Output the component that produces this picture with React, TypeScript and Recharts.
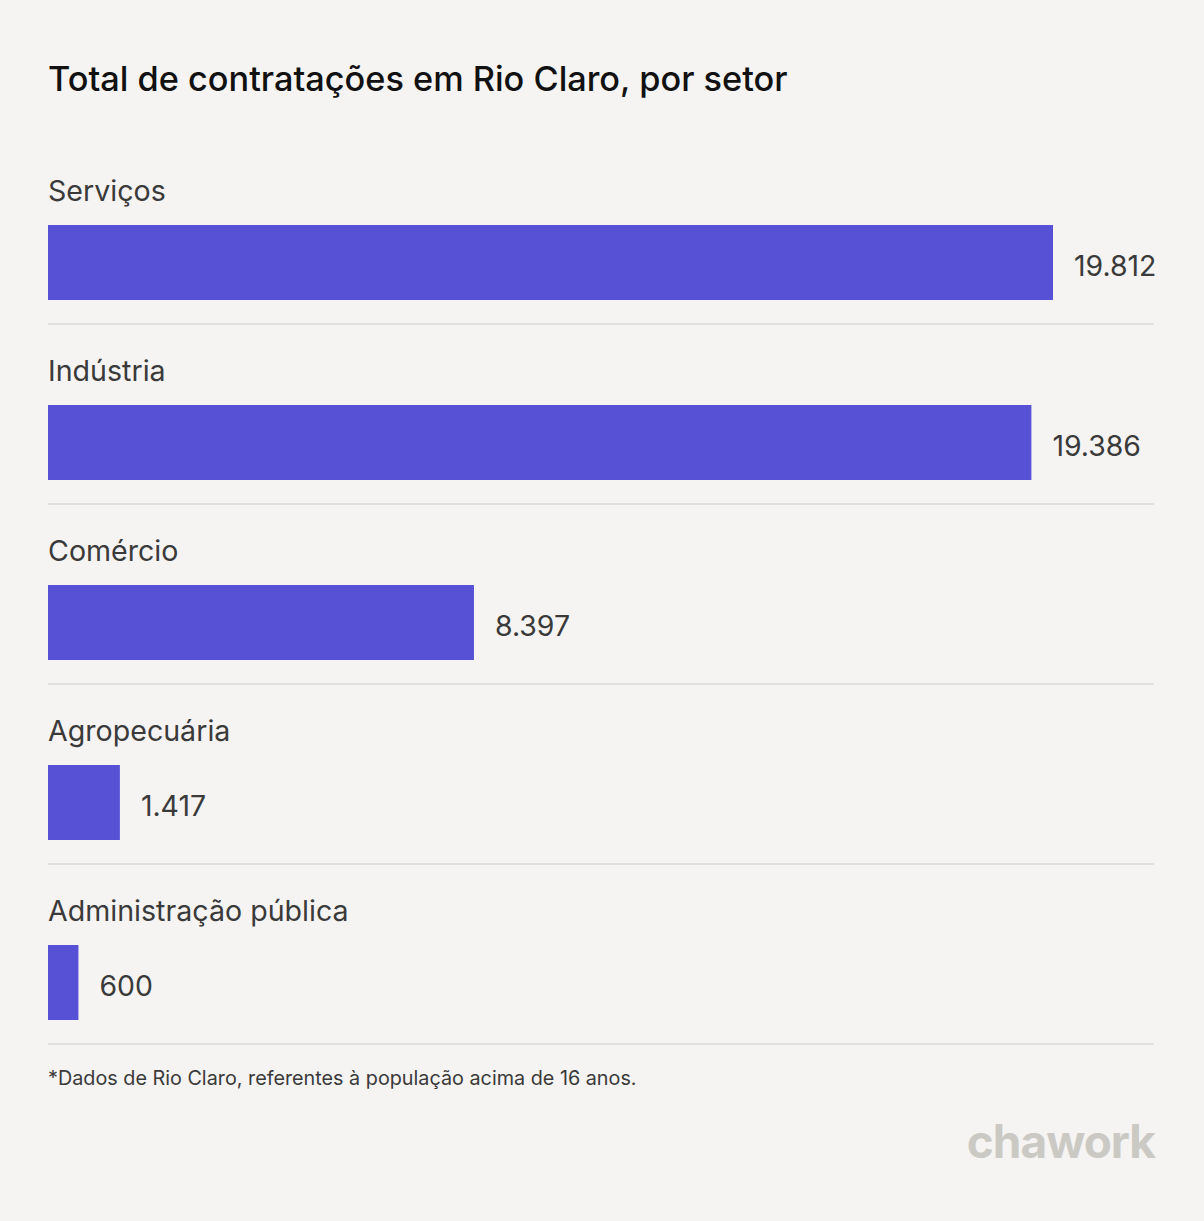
import { BarChart, Bar, XAxis, YAxis } from 'recharts'

const sectors = ['Serviços', 'Indústria', 'Comércio', 'Agropecuária', 'Administração pública']
const hires = [19812, 19386, 8397, 1417, 600]

const data = sectors.map((name, i) => ({ name, value: hires[i] }))

const FONT = 'Inter, "Noto Sans", sans-serif'

function formatBR(v: number) {
    return String(v).replace(/\B(?=(\d{3})+(?!\d))/g, '.')
}

function SectorBar(props: any) {
    const { x, y, width, height, payload, value } = props
    return (
        <g>
            <text x={48} y={y - 24} fontSize={28.6} fill="#3a3a3a" fontFamily={FONT}>
                {payload.name}
            </text>
            <rect x={x} y={y} width={width} height={height} fill="#5751d5" />
            <text x={x + width + 21} y={y + height / 2 + 13} fontSize={28.4} fill="#3a3a3a" fontFamily={FONT}>
                {formatBR(value)}
            </text>
            <line x1={48} x2={1154} y1={y + height + 24} y2={y + height + 24} stroke="#e2e0dc" strokeWidth={2} />
        </g>
    )
}

export default function App() {
    return (
        <div style={{ position: 'absolute', left: 0, top: 0, width: 1204, height: 1221, background: '#f5f4f2' }}>
            <svg width={1204} height={1221} style={{ position: 'absolute', left: 0, top: 0 }}>
                <text x={48} y={91} fontSize={34.3} fill="#111" fontFamily={FONT} fontWeight={500}>
                    Total de contratações em Rio Claro, por setor
                </text>
                <text x={48} y={1085} fontSize={19.8} fill="#3a3a3a" fontFamily={FONT}>
                    *Dados de Rio Claro, referentes à população acima de 16 anos.
                </text>
                <text x={1155} y={1158} fontSize={46} fill="#cbc9c4" fontFamily={FONT} fontWeight={700} textAnchor="end" letterSpacing={-1}>
                    chawork
                </text>
            </svg>
            <div style={{ position: 'absolute', left: 0, top: 0 }}>
                <BarChart
                    width={1204}
                    height={1221}
                    data={data}
                    layout="vertical"
                    margin={{ top: 172, right: 151, bottom: 149, left: 48 }}
                >
                    <XAxis type="number" domain={[0, 19812]} hide />
                    <YAxis type="category" dataKey="name" hide />
                    <Bar dataKey="value" barSize={75} isAnimationActive={false} shape={SectorBar} />
                </BarChart>
            </div>
        </div>
    )
}
